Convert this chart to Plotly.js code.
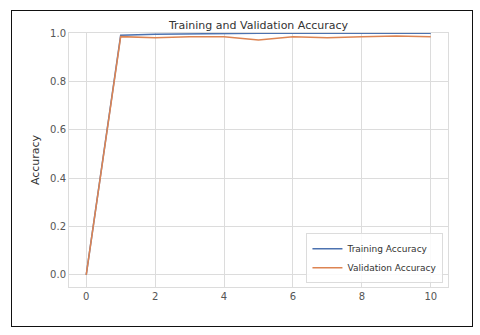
<!DOCTYPE html>
<html>
<head>
<meta charset="utf-8">
<script src="https://cdn.plot.ly/plotly-3.0.1.min.js"></script>
<style>
  html, body { margin: 0; padding: 0; background: #fff; }
  #frame {
    position: absolute; left: 11px; top: 10px;
    width: 460px; height: 315px;
    border: 1.5px solid #111;
  }
  #chart { position: absolute; left: 0; top: 0; width: 480px; height: 335px; }
</style>
</head>
<body>
<div id="frame"></div>
<div id="chart"></div>
<script>
// epochs and accuracy per epoch
const epochs = [0, 1, 2, 3, 4, 5, 6, 7, 8, 9, 10];
const trainAcc = [0.0, 0.992, 0.996, 0.998, 0.999, 1.0, 1.0, 1.0, 1.0, 1.0, 1.0];
const valAcc = [0.0, 0.986, 0.981, 0.985, 0.985, 0.972, 0.986, 0.981, 0.985, 0.989, 0.985];

const GRID = '#dcdcdc';
const TICK_FONT = { family: 'DejaVu Sans, sans-serif', size: 10, color: '#555' };

const traces = [
  {
    x: epochs, y: trainAcc,
    mode: 'lines', name: 'Training Accuracy',
    line: { color: '#4c72b0', width: 1.5 },
  },
  {
    x: epochs, y: valAcc,
    mode: 'lines', name: 'Validation Accuracy',
    line: { color: '#dd8452', width: 1.5 },
  },
];

const layout = {
  width: 480, height: 335,
  paper_bgcolor: 'rgba(0,0,0,0)',
  plot_bgcolor: '#fff',
  margin: { l: 69, r: 32, t: 33, b: 48 },
  title: {
    text: 'Training and Validation Accuracy',
    font: { family: 'DejaVu Sans, sans-serif', size: 11, color: '#333' },
    x: 0.5, xanchor: 'center', y: 0.925, yanchor: 'middle',
    xref: 'paper',
  },
  xaxis: {
    range: [-0.5, 10.5],
    tickvals: [0, 2, 4, 6, 8, 10],
    ticks: '', tickfont: TICK_FONT,
    gridcolor: GRID, gridwidth: 1,
    showline: true, mirror: true, linecolor: GRID, linewidth: 1,
    zeroline: false,
  },
  yaxis: {
    range: [-0.05, 1.001],
    tickvals: [0, 0.2, 0.4, 0.6, 0.8, 1.0],
    tickformat: '.1f',
    ticks: '', tickfont: TICK_FONT,
    gridcolor: GRID, gridwidth: 1,
    showline: true, mirror: true, linecolor: GRID, linewidth: 1,
    zeroline: false,
    title: { text: 'Accuracy', font: { family: 'DejaVu Sans, sans-serif', size: 11, color: '#333' }, standoff: 8 },
  },
  showlegend: true,
  legend: {
    x: 0.988, y: 0.015, xanchor: 'right', yanchor: 'bottom',
    bgcolor: 'rgba(255,255,255,0.85)',
    bordercolor: GRID, borderwidth: 1,
    font: { family: 'DejaVu Sans, sans-serif', size: 9, color: '#333' },
    itemwidth: 30,
    tracegroupgap: 0,
  },
};

Plotly.newPlot('chart', traces, layout, { displayModeBar: false, responsive: false });
</script>
</body>
</html>
